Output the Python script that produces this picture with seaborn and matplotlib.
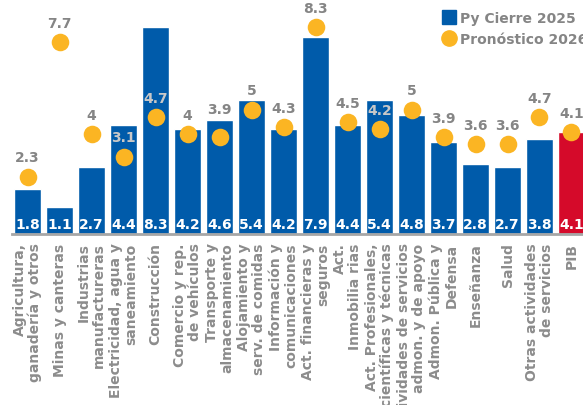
import matplotlib
matplotlib.use("Agg")
import matplotlib.pyplot as plt
from matplotlib.lines import Line2D
import numpy as np
import pandas as pd
import seaborn as sns

# Data
sectores = [
    "Agricultura,\nganadería y otros",
    "Minas y canteras",
    "Industrias\nmanufactureras",
    "Electricidad, agua y\nsaneamiento",
    "Construcción",
    "Comercio y rep.\nde vehículos",
    "Transporte y\nalmacenamiento",
    "Alojamiento y\nserv. de comidas",
    "Información y\ncomunicaciones",
    "Act. financieras y\nseguros",
    "Act.\nInmobilia rias",
    "Act. Profesionales,\ncientíficas y técnicas",
    "Actividades de servicios\nadmon. y de apoyo",
    "Admon. Pública y\nDefensa",
    "Enseñanza",
    "Salud",
    "Otras actividades\nde servicios",
    "PIB",
]
cierre_2025 = [1.8, 1.1, 2.7, 4.4, 8.3, 4.2, 4.6, 5.4, 4.2, 7.9, 4.4, 5.4, 4.8, 3.7, 2.8, 2.7, 3.8, 4.1]
pronostico_2026 = [2.3, 7.7, 4, 3.1, 4.7, 4, 3.9, 5, 4.3, 8.3, 4.5, 4.2, 5, 3.9, 3.6, 3.6, 4.7, 4.1]

azul = "#005BAA"
rojo = "#D50A2A"
amarillo = "#FBB523"
gris = "#858585"
gris_claro = "#C8C8C8"

df = pd.DataFrame({"sector": sectores, "cierre": cierre_2025, "pronostico": pronostico_2026})
colores = [azul] * (len(sectores) - 1) + [rojo]

sns.set_style("white")
plt.rcParams["font.family"] = ["DejaVu Sans"]

fig = plt.figure(figsize=(5.83, 4.06), dpi=100)
ax = fig.add_axes([0.02, 0.421, 0.98, 0.579])

sns.barplot(data=df, x="sector", y="cierre", hue="sector", palette=colores,
            legend=False, width=0.84, saturation=1, ax=ax)
ax.scatter(np.arange(len(sectores)), df["pronostico"], s=160, color=amarillo,
           zorder=4, linewidths=0)

# value labels inside the bars
for i, v in enumerate(cierre_2025):
    ax.text(i, 0.12, f"{v:g}", ha="center", va="bottom", color="white",
            fontsize=10, fontweight="bold")

# forecast labels above the dots (pushed over the bar top when they would clash)
for i, (v, b) in enumerate(zip(pronostico_2026, cierre_2025)):
    y = v + 0.5
    if b - 0.45 < y < b + 0.1:
        y = b + 0.15
    c = gris_claro if y < b else gris
    ax.text(i, y, f"{v:g}", ha="center", va="bottom", color=c,
            fontsize=10, fontweight="bold", zorder=5)

ax.set_xlim(-0.5, 17.36)
ax.set_ylim(0, 9.44)
ax.set_xlabel("")
ax.set_ylabel("")
ax.set_yticks([])
ax.set_xticks(range(len(sectores)))
ax.set_xticklabels(sectores, rotation=90, color="#8C8C8C", fontsize=10,
                   fontweight="bold", multialignment="right", linespacing=1.1)
ax.tick_params(axis="x", length=0, pad=6)
for s in ["top", "right", "left"]:
    ax.spines[s].set_visible(False)
ax.spines["bottom"].set_color("#A6A6A6")
ax.spines["bottom"].set_linewidth(2)

handles = [
    Line2D([], [], marker="s", linestyle="", markersize=10.5, color=azul),
    Line2D([], [], marker="o", linestyle="", markersize=11, color=amarillo),
]
leg = fig.legend(handles, ["Py Cierre 2025", "Pronóstico 2026"], loc="upper left",
                 bbox_to_anchor=(0.742, 0.995), frameon=False, fontsize=10,
                 handletextpad=0.25, labelspacing=0.5, handlelength=1.0,
                 borderaxespad=0.3)
for t in leg.get_texts():
    t.set_color(gris)
    t.set_fontweight("bold")

fig.savefig("out.png", dpi=100)
